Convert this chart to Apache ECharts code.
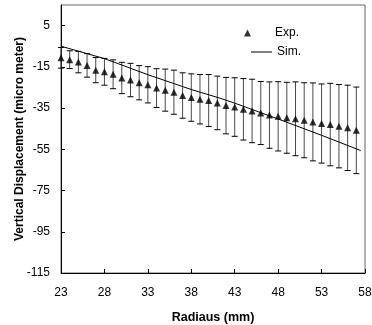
<!DOCTYPE html>
<html>
<head>
<meta charset="utf-8">
<script src="https://cdn.jsdelivr.net/npm/echarts@6/dist/echarts.min.js"></script>
<style>html,body{margin:0;padding:0;background:#fff;}#c{width:372px;height:325px;}</style>
</head>
<body>
<div id="c"></div>
<script>
var radius = [23,24,25,26,27,28,29,30,31,32,33,34,35,36,37,38,39,40,41,42,43,44,45,46,47,48,49,50,51,52,53,54,55,56,57];
var expMean = [-10.6,-11.5,-12.7,-14.3,-16.6,-17.4,-18.6,-20.4,-21.4,-22.7,-23.7,-25.3,-26.3,-27.3,-28.9,-29.9,-30.7,-31.3,-32.5,-33.8,-34.5,-35.6,-36.4,-37.4,-38.4,-39.0,-39.7,-40.2,-40.9,-41.7,-42.5,-43.0,-43.8,-44.6,-45.8];
var expErr = [5.0,4.3,5.2,5.7,6.1,6.5,7.0,7.6,8.1,8.3,8.8,9.4,10.2,10.7,11.0,11.5,12.0,12.6,13.0,13.7,14.2,14.9,15.4,15.3,16.1,16.8,17.2,17.9,18.2,18.9,19.2,20.0,20.2,20.7,21.0];
var simX = [23,28,33,38,41.3,43,48,53,57.5];
var simY = [-5.0,-11.0,-18.8,-26.0,-30.2,-32.6,-40.3,-48.2,-55.6];
var xTicks = [23,28,33,38,43,48,53,58];
var yTicks = [-115,-95,-75,-55,-35,-15,5];

var expData = radius.map(function(r,i){return [r, expMean[i]];});
var errData = radius.map(function(r,i){return [r, expMean[i]-expErr[i], expMean[i]+expErr[i]];});
var simData = simX.map(function(x,i){return [x, simY[i]];});

var font = 'Arial, "Liberation Sans", sans-serif';
var chart = echarts.init(document.getElementById('c'), null, {renderer:'canvas'});
chart.setOption({
  animation:false,
  backgroundColor:'#fff',
  grid:{left:61,right:7,top:5,bottom:52,show:true,borderColor:'#666',borderWidth:1,backgroundColor:'transparent',
        containLabel:false,outerBoundsMode:'none'},
  legend:[
    {data:[{name:'Exp.',icon:'triangle'}],left:244,top:27,padding:0,itemWidth:7,itemHeight:7,orient:'vertical',
     textStyle:{fontFamily:font,fontSize:12,color:'#000',padding:[0,0,0,19]}},
    {data:[{name:'Sim.',icon:'rect'}],left:251,top:46,padding:0,itemWidth:21,itemHeight:1,orient:'vertical',
     itemStyle:{color:'#000'},
     textStyle:{fontFamily:font,fontSize:12,color:'#000'}}
  ],
  xAxis:{type:'value',min:23,max:58,
    name:'Radiaus (mm)',nameLocation:'middle',nameGap:38,nameMoveOverlap:false,
    nameTextStyle:{fontFamily:font,fontSize:12.5,fontWeight:'bold',color:'#000'},
    axisLine:{onZero:false,lineStyle:{color:'#000',width:1}},
    axisTick:{inside:true,length:4,customValues:xTicks,lineStyle:{color:'#000'}},
    axisLabel:{customValues:xTicks,margin:14,fontFamily:font,fontSize:12,color:'#000'},
    splitLine:{show:false}},
  yAxis:{type:'value',min:-115,max:15,
    name:'Vertical Displacement (micro meter)',nameLocation:'middle',nameGap:35,nameRotate:90,nameMoveOverlap:false,
    nameTextStyle:{fontFamily:font,fontSize:12,fontWeight:'bold',color:'#000'},
    axisLine:{onZero:false,lineStyle:{color:'#000',width:1}},
    axisTick:{inside:true,length:4,customValues:yTicks,lineStyle:{color:'#000'}},
    axisLabel:{customValues:yTicks,margin:11,fontFamily:font,fontSize:12,color:'#000'},
    splitLine:{show:false}},
  series:[
    {type:'custom',name:'err',data:errData,z:2,silent:true,
     renderItem:function(params,api){
       var x=api.value(0), lo=api.value(1), hi=api.value(2);
       var p1=api.coord([x,lo]), p2=api.coord([x,hi]);
       var w=3;
       var st={stroke:'#4a4a4a',lineWidth:1};
       return {type:'group',children:[
         {type:'line',shape:{x1:p1[0],y1:p1[1],x2:p2[0],y2:p2[1]},style:st},
         {type:'line',shape:{x1:p1[0]-w,y1:p1[1],x2:p1[0]+w,y2:p1[1]},style:{stroke:'#000',lineWidth:1}},
         {type:'line',shape:{x1:p2[0]-w,y1:p2[1],x2:p2[0]+w,y2:p2[1]},style:{stroke:'#000',lineWidth:1}}
       ]};
     }},
    {type:'scatter',name:'Exp.',data:expData,symbol:'triangle',symbolSize:7,z:4,
     itemStyle:{color:'#000'}},
    {type:'line',name:'Sim.',data:simData,symbol:'none',showSymbol:false,z:3,
     lineStyle:{color:'#000',width:1},itemStyle:{color:'#000'}}
  ]
});
</script>
</body>
</html>
